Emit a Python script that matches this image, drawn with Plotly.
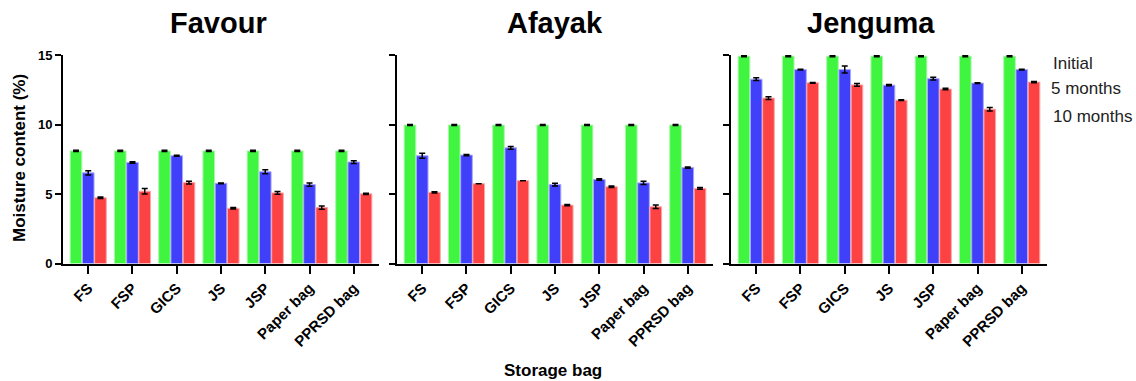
import plotly.graph_objects as go

categories = ["FS", "FSP", "GICS", "JS", "JSP", "Paper bag", "PPRSD bag"]
panels = ["Favour", "Afayak", "Jenguma"]
series_names = ["Initial", "5 months", "10 months"]

favour_initial = [8.1, 8.1, 8.1, 8.1, 8.1, 8.1, 8.1]
favour_5m = [6.52, 7.27, 7.75, 5.77, 6.6, 5.68, 7.3]
favour_10m = [4.73, 5.2, 5.82, 3.97, 5.08, 4.02, 5.01]

afayak_initial = [9.96, 9.96, 9.96, 9.96, 9.96, 9.96, 9.96]
afayak_5m = [7.75, 7.8, 8.32, 5.68, 6.04, 5.8, 6.9]
afayak_10m = [5.12, 5.74, 5.96, 4.2, 5.52, 4.08, 5.4]

jenguma_initial = [14.92, 14.92, 14.92, 14.92, 14.92, 14.92, 14.92]
jenguma_5m = [13.26, 13.95, 13.95, 12.83, 13.3, 12.98, 13.95]
jenguma_10m = [11.9, 13.0, 12.85, 11.75, 12.55, 11.1, 13.05]

favour_err = [[0.04] * 7, [0.15, 0.05, 0.03, 0.03, 0.15, 0.12, 0.1], [0.05, 0.2, 0.1, 0.05, 0.1, 0.12, 0.05]]
afayak_err = [[0.04] * 7, [0.18, 0.05, 0.1, 0.1, 0.05, 0.12, 0.04], [0.05, 0.0, 0.0, 0.05, 0.05, 0.12, 0.06]]
jenguma_err = [[0.04] * 7, [0.1, 0.03, 0.25, 0.05, 0.1, 0.03, 0.03], [0.1, 0.03, 0.1, 0.03, 0.05, 0.12, 0.05]]

data = {
    "Favour": ([favour_initial, favour_5m, favour_10m], favour_err),
    "Afayak": ([afayak_initial, afayak_5m, afayak_10m], afayak_err),
    "Jenguma": ([jenguma_initial, jenguma_5m, jenguma_10m], jenguma_err),
}

colors = ["#40F540", "#4040FA", "#FC4242"]
edge = ["#A8F8A8", "#A8A8FC", "#FCA8A8"]

W, H = 1136, 381
FONT = "Liberation Sans, Arial, sans-serif"
x_dom_px = [(63, 379), (397, 713), (731, 1047)]
y_top_px, y_bot_px = 55, 263.5

fig = go.Figure()
for pi, name in enumerate(panels):
    vals, errs = data[name]
    xa = "x" if pi == 0 else f"x{pi+1}"
    ya = "y" if pi == 0 else f"y{pi+1}"
    for si in range(3):
        fig.add_trace(go.Bar(
            x=categories, y=vals[si], name=series_names[si],
            xaxis=xa, yaxis=ya, showlegend=False,
            marker=dict(color=colors[si], line=dict(color=edge[si], width=1)),
            error_y=dict(type="data", array=errs[si], visible=True,
                         color="black", thickness=1.5, width=3),
            offsetgroup=str(si),
        ))

layout = dict(
    template="none",
    width=W, height=H, margin=dict(l=0, r=0, t=0, b=0, pad=0, autoexpand=False),
    paper_bgcolor="white", plot_bgcolor="white",
    barmode="group", bargap=0.17, bargroupgap=0.05,
    font=dict(family=FONT, color="black"),
)
ydom = [1 - y_bot_px / H, 1 - y_top_px / H]
for pi in range(3):
    sfx = "" if pi == 0 else str(pi + 1)
    x0, x1 = x_dom_px[pi]
    layout["xaxis" + sfx] = dict(
        domain=[x0 / W, x1 / W], anchor="y" + sfx, automargin=False,
        type="category", range=[-0.57, 6.57],
        showline=True, linecolor="black", linewidth=2,
        ticks="outside", ticklen=8, tickwidth=2, tickcolor="black",
        tickangle=-45, tickfont=dict(family=FONT, size=15, color="black", weight="bold"),
        showgrid=False, zeroline=False, fixedrange=True,
    )
    layout["yaxis" + sfx] = dict(
        domain=ydom, anchor="x" + sfx, range=[0, 15], automargin=False,
        tickvals=[0, 5, 10, 15],
        showticklabels=(pi == 0),
        showline=True, linecolor="black", linewidth=2,
        ticks="outside", ticklen=6, tickwidth=2, tickcolor="black",
        tickfont=dict(family=FONT, size=13, color="black", weight="bold"),
        showgrid=False, zeroline=False, fixedrange=True,
    )
fig.update_layout(**layout)

ann = []
title_x = [218, 555, 871]
for pi, name in enumerate(panels):
    ann.append(dict(x=title_x[pi] / W, y=1 - 23 / H, xref="paper", yref="paper",
                    text=name, showarrow=False, xanchor="center", yanchor="middle",
                    font=dict(family=FONT, size=29, color="black", weight="bold")))
leg_y = [63, 89, 116]
leg_x = [1051, 1049, 1051]
for i, s in enumerate(series_names):
    ann.append(dict(x=leg_x[i] / W, y=1 - leg_y[i] / H, xref="paper", yref="paper",
                    text=s, showarrow=False, xanchor="left", yanchor="middle",
                    font=dict(family=FONT, size=17, color="#222")))
ann.append(dict(x=19 / W, y=1 - 158 / H, xref="paper", yref="paper",
                text="Moisture content (%)", showarrow=False, textangle=-90,
                xanchor="center", yanchor="middle",
                font=dict(family=FONT, size=17, color="black", weight="bold")))
ann.append(dict(x=553 / W, y=1 - 370 / H, xref="paper", yref="paper",
                text="Storage bag", showarrow=False, xanchor="center", yanchor="middle",
                font=dict(family=FONT, size=17, color="black", weight="bold")))
fig.update_layout(annotations=ann)

fig.write_html("out.html")
